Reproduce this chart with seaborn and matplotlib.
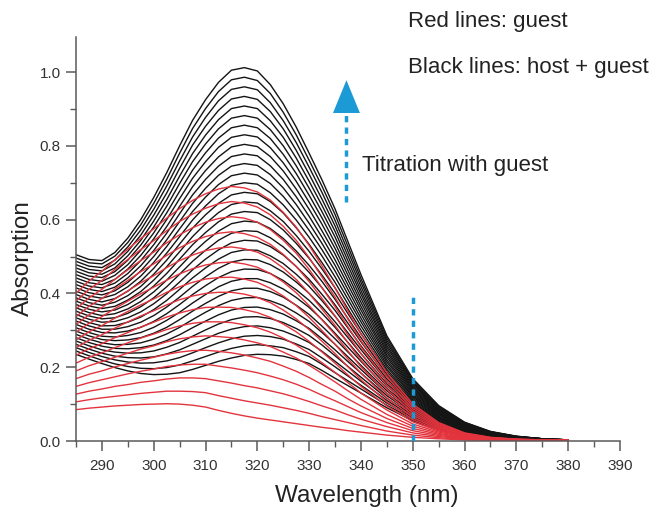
import matplotlib
matplotlib.use("Agg")
import matplotlib.pyplot as plt
import pandas as pd
import seaborn as sns
from matplotlib.ticker import MultipleLocator
from matplotlib.patches import Polygon

# ---------------- data ----------------
wavelength = [285, 287.5, 290, 292.5, 295, 297.5, 300, 302.5, 305, 307.5,
              310, 312.5, 315, 317.5, 320, 322.5, 325, 327.5, 330, 332.5,
              335, 337.5, 340, 345, 350, 355, 360, 365, 370, 375, 380]

# host + guest spectra: one list per wavelength, one value per spectrum (31 spectra)
black_abs = [
    [0.235, 0.244, 0.253, 0.262, 0.271, 0.280, 0.289, 0.298, 0.307, 0.316, 0.325, 0.334, 0.343, 0.352, 0.361, 0.370, 0.379, 0.388, 0.397, 0.406, 0.415, 0.424, 0.433, 0.442, 0.451, 0.460, 0.469, 0.478, 0.487, 0.496, 0.505],
    [0.222, 0.231, 0.240, 0.249, 0.258, 0.267, 0.276, 0.285, 0.294, 0.303, 0.312, 0.321, 0.330, 0.339, 0.348, 0.357, 0.366, 0.375, 0.384, 0.393, 0.402, 0.411, 0.420, 0.429, 0.438, 0.447, 0.456, 0.465, 0.474, 0.483, 0.492],
    [0.210, 0.219, 0.229, 0.238, 0.247, 0.257, 0.266, 0.275, 0.284, 0.294, 0.303, 0.312, 0.322, 0.331, 0.340, 0.350, 0.359, 0.368, 0.377, 0.387, 0.396, 0.405, 0.415, 0.424, 0.433, 0.443, 0.452, 0.461, 0.470, 0.480, 0.489],
    [0.199, 0.209, 0.220, 0.230, 0.241, 0.251, 0.261, 0.272, 0.282, 0.293, 0.303, 0.313, 0.324, 0.334, 0.345, 0.355, 0.365, 0.376, 0.386, 0.397, 0.407, 0.417, 0.428, 0.438, 0.449, 0.459, 0.469, 0.480, 0.490, 0.501, 0.511],
    [0.190, 0.202, 0.214, 0.226, 0.238, 0.250, 0.262, 0.274, 0.286, 0.298, 0.310, 0.322, 0.334, 0.346, 0.358, 0.370, 0.382, 0.394, 0.406, 0.418, 0.430, 0.442, 0.454, 0.466, 0.478, 0.490, 0.502, 0.514, 0.526, 0.538, 0.550],
    [0.183, 0.197, 0.211, 0.225, 0.239, 0.253, 0.266, 0.280, 0.294, 0.308, 0.322, 0.336, 0.350, 0.364, 0.378, 0.392, 0.405, 0.419, 0.433, 0.447, 0.461, 0.475, 0.489, 0.503, 0.517, 0.531, 0.544, 0.558, 0.572, 0.586, 0.600],
    [0.180, 0.196, 0.212, 0.228, 0.244, 0.260, 0.276, 0.292, 0.308, 0.324, 0.340, 0.356, 0.372, 0.388, 0.404, 0.420, 0.436, 0.452, 0.468, 0.484, 0.500, 0.516, 0.532, 0.548, 0.564, 0.580, 0.596, 0.612, 0.628, 0.644, 0.660],
    [0.181, 0.199, 0.217, 0.236, 0.254, 0.272, 0.290, 0.308, 0.327, 0.345, 0.363, 0.381, 0.399, 0.418, 0.436, 0.454, 0.472, 0.490, 0.509, 0.527, 0.545, 0.563, 0.581, 0.600, 0.618, 0.636, 0.654, 0.672, 0.691, 0.709, 0.727],
    [0.185, 0.206, 0.226, 0.247, 0.267, 0.288, 0.308, 0.329, 0.349, 0.370, 0.390, 0.411, 0.431, 0.452, 0.472, 0.493, 0.513, 0.534, 0.554, 0.575, 0.595, 0.616, 0.636, 0.657, 0.677, 0.698, 0.718, 0.739, 0.759, 0.780, 0.800],
    [0.194, 0.217, 0.239, 0.262, 0.284, 0.307, 0.329, 0.352, 0.374, 0.397, 0.419, 0.442, 0.464, 0.487, 0.509, 0.532, 0.554, 0.577, 0.599, 0.622, 0.644, 0.667, 0.689, 0.712, 0.734, 0.757, 0.779, 0.802, 0.824, 0.847, 0.869],
    [0.205, 0.229, 0.253, 0.277, 0.301, 0.325, 0.349, 0.373, 0.397, 0.421, 0.445, 0.469, 0.493, 0.517, 0.541, 0.565, 0.589, 0.613, 0.637, 0.661, 0.685, 0.709, 0.733, 0.757, 0.781, 0.805, 0.829, 0.853, 0.877, 0.901, 0.925],
    [0.216, 0.241, 0.266, 0.292, 0.317, 0.342, 0.367, 0.392, 0.418, 0.443, 0.468, 0.493, 0.518, 0.544, 0.569, 0.594, 0.619, 0.644, 0.670, 0.695, 0.720, 0.745, 0.770, 0.796, 0.821, 0.846, 0.871, 0.896, 0.922, 0.947, 0.972],
    [0.225, 0.251, 0.277, 0.303, 0.329, 0.355, 0.381, 0.407, 0.433, 0.459, 0.485, 0.511, 0.537, 0.563, 0.589, 0.615, 0.641, 0.667, 0.693, 0.719, 0.745, 0.771, 0.797, 0.823, 0.849, 0.875, 0.901, 0.927, 0.953, 0.979, 1.005],
    [0.232, 0.258, 0.284, 0.310, 0.336, 0.362, 0.388, 0.414, 0.440, 0.466, 0.492, 0.518, 0.544, 0.570, 0.596, 0.622, 0.648, 0.674, 0.700, 0.726, 0.752, 0.778, 0.804, 0.830, 0.856, 0.882, 0.908, 0.934, 0.960, 0.986, 1.012],
    [0.235, 0.261, 0.286, 0.312, 0.337, 0.363, 0.389, 0.414, 0.440, 0.465, 0.491, 0.517, 0.542, 0.568, 0.593, 0.619, 0.645, 0.670, 0.696, 0.721, 0.747, 0.773, 0.798, 0.824, 0.849, 0.875, 0.901, 0.926, 0.952, 0.977, 1.003],
    [0.234, 0.258, 0.283, 0.307, 0.332, 0.356, 0.380, 0.405, 0.429, 0.454, 0.478, 0.502, 0.527, 0.551, 0.576, 0.600, 0.624, 0.649, 0.673, 0.698, 0.722, 0.746, 0.771, 0.795, 0.820, 0.844, 0.868, 0.893, 0.917, 0.942, 0.966],
    [0.230, 0.253, 0.276, 0.298, 0.321, 0.344, 0.367, 0.390, 0.412, 0.435, 0.458, 0.481, 0.504, 0.526, 0.549, 0.572, 0.595, 0.618, 0.640, 0.663, 0.686, 0.709, 0.732, 0.754, 0.777, 0.800, 0.823, 0.846, 0.868, 0.891, 0.914],
    [0.221, 0.242, 0.263, 0.284, 0.305, 0.326, 0.347, 0.368, 0.389, 0.410, 0.431, 0.452, 0.473, 0.494, 0.515, 0.536, 0.557, 0.578, 0.599, 0.620, 0.641, 0.662, 0.683, 0.704, 0.725, 0.746, 0.767, 0.788, 0.809, 0.830, 0.851],
    [0.210, 0.229, 0.248, 0.267, 0.286, 0.305, 0.324, 0.343, 0.362, 0.381, 0.400, 0.419, 0.438, 0.457, 0.476, 0.495, 0.514, 0.533, 0.552, 0.571, 0.590, 0.609, 0.628, 0.647, 0.666, 0.685, 0.704, 0.723, 0.742, 0.761, 0.780],
    [0.191, 0.208, 0.225, 0.243, 0.260, 0.277, 0.294, 0.311, 0.329, 0.346, 0.363, 0.380, 0.397, 0.415, 0.432, 0.449, 0.466, 0.483, 0.501, 0.518, 0.535, 0.552, 0.569, 0.587, 0.604, 0.621, 0.638, 0.655, 0.673, 0.690, 0.707],
    [0.170, 0.185, 0.201, 0.216, 0.231, 0.247, 0.262, 0.277, 0.292, 0.308, 0.323, 0.338, 0.354, 0.369, 0.384, 0.400, 0.415, 0.430, 0.445, 0.461, 0.476, 0.491, 0.507, 0.522, 0.537, 0.553, 0.568, 0.583, 0.598, 0.614, 0.629],
    [0.150, 0.163, 0.176, 0.189, 0.202, 0.215, 0.228, 0.241, 0.254, 0.267, 0.280, 0.293, 0.306, 0.319, 0.332, 0.345, 0.358, 0.371, 0.384, 0.397, 0.410, 0.423, 0.436, 0.449, 0.462, 0.475, 0.488, 0.501, 0.514, 0.527, 0.540],
    [0.130, 0.141, 0.151, 0.162, 0.173, 0.184, 0.194, 0.205, 0.216, 0.226, 0.237, 0.248, 0.258, 0.269, 0.280, 0.291, 0.301, 0.312, 0.323, 0.333, 0.344, 0.355, 0.365, 0.376, 0.387, 0.398, 0.408, 0.419, 0.430, 0.440, 0.451],
    [0.090, 0.097, 0.103, 0.110, 0.116, 0.123, 0.129, 0.136, 0.142, 0.149, 0.155, 0.162, 0.168, 0.175, 0.181, 0.188, 0.194, 0.201, 0.207, 0.214, 0.220, 0.227, 0.233, 0.240, 0.246, 0.253, 0.259, 0.266, 0.272, 0.279, 0.285],
    [0.055, 0.059, 0.063, 0.066, 0.070, 0.074, 0.078, 0.082, 0.085, 0.089, 0.093, 0.097, 0.101, 0.104, 0.108, 0.112, 0.116, 0.120, 0.123, 0.127, 0.131, 0.135, 0.139, 0.142, 0.146, 0.150, 0.154, 0.158, 0.161, 0.165, 0.169],
    [0.030, 0.032, 0.034, 0.037, 0.039, 0.041, 0.043, 0.045, 0.048, 0.050, 0.052, 0.054, 0.056, 0.059, 0.061, 0.063, 0.065, 0.067, 0.070, 0.072, 0.074, 0.076, 0.078, 0.081, 0.083, 0.085, 0.087, 0.089, 0.092, 0.094, 0.096],
    [0.015, 0.016, 0.017, 0.019, 0.020, 0.021, 0.022, 0.023, 0.025, 0.026, 0.027, 0.028, 0.029, 0.031, 0.032, 0.033, 0.034, 0.035, 0.037, 0.038, 0.039, 0.040, 0.041, 0.043, 0.044, 0.045, 0.046, 0.047, 0.049, 0.050, 0.051],
    [0.008, 0.009, 0.009, 0.010, 0.010, 0.011, 0.012, 0.012, 0.013, 0.013, 0.014, 0.015, 0.015, 0.016, 0.016, 0.017, 0.018, 0.018, 0.019, 0.019, 0.020, 0.021, 0.021, 0.022, 0.022, 0.023, 0.024, 0.024, 0.025, 0.025, 0.026],
    [0.004, 0.004, 0.005, 0.005, 0.005, 0.006, 0.006, 0.006, 0.006, 0.007, 0.007, 0.007, 0.008, 0.008, 0.008, 0.009, 0.009, 0.009, 0.009, 0.010, 0.010, 0.010, 0.011, 0.011, 0.011, 0.012, 0.012, 0.012, 0.012, 0.013, 0.013],
    [0.002, 0.002, 0.002, 0.002, 0.003, 0.003, 0.003, 0.003, 0.003, 0.003, 0.004, 0.004, 0.004, 0.004, 0.004, 0.004, 0.004, 0.005, 0.005, 0.005, 0.005, 0.005, 0.005, 0.005, 0.006, 0.006, 0.006, 0.006, 0.006, 0.006, 0.006],
    [0.001, 0.001, 0.001, 0.001, 0.001, 0.001, 0.001, 0.002, 0.002, 0.002, 0.002, 0.002, 0.002, 0.002, 0.002, 0.002, 0.002, 0.002, 0.002, 0.002, 0.002, 0.002, 0.003, 0.003, 0.003, 0.003, 0.003, 0.003, 0.003, 0.003, 0.003],
]

# guest-only spectra: one list per wavelength, one value per spectrum (16 spectra)
red_abs = [
    [0.085, 0.106, 0.127, 0.148, 0.169, 0.190, 0.211, 0.232, 0.253, 0.274, 0.295, 0.316, 0.337, 0.358, 0.379, 0.400],
    [0.089, 0.112, 0.135, 0.158, 0.181, 0.204, 0.227, 0.250, 0.273, 0.296, 0.319, 0.342, 0.365, 0.388, 0.411, 0.434],
    [0.092, 0.117, 0.141, 0.166, 0.190, 0.215, 0.239, 0.264, 0.288, 0.313, 0.337, 0.362, 0.386, 0.411, 0.435, 0.460],
    [0.095, 0.121, 0.148, 0.174, 0.201, 0.227, 0.253, 0.280, 0.306, 0.333, 0.359, 0.385, 0.412, 0.438, 0.465, 0.491],
    [0.097, 0.125, 0.153, 0.182, 0.210, 0.238, 0.266, 0.294, 0.323, 0.351, 0.379, 0.407, 0.435, 0.464, 0.492, 0.520],
    [0.099, 0.129, 0.159, 0.189, 0.219, 0.249, 0.279, 0.309, 0.339, 0.369, 0.399, 0.429, 0.459, 0.489, 0.519, 0.549],
    [0.100, 0.132, 0.163, 0.195, 0.227, 0.258, 0.290, 0.322, 0.353, 0.385, 0.417, 0.448, 0.480, 0.512, 0.543, 0.575],
    [0.101, 0.135, 0.168, 0.202, 0.235, 0.269, 0.302, 0.336, 0.369, 0.403, 0.436, 0.470, 0.503, 0.537, 0.570, 0.604],
    [0.100, 0.135, 0.171, 0.206, 0.241, 0.277, 0.312, 0.347, 0.383, 0.418, 0.453, 0.489, 0.524, 0.559, 0.595, 0.630],
    [0.097, 0.134, 0.171, 0.208, 0.245, 0.282, 0.319, 0.356, 0.393, 0.430, 0.467, 0.504, 0.541, 0.578, 0.615, 0.652],
    [0.092, 0.131, 0.169, 0.208, 0.246, 0.285, 0.323, 0.362, 0.400, 0.439, 0.477, 0.516, 0.554, 0.593, 0.631, 0.670],
    [0.083, 0.123, 0.163, 0.203, 0.243, 0.283, 0.323, 0.363, 0.403, 0.443, 0.483, 0.523, 0.563, 0.603, 0.643, 0.683],
    [0.075, 0.116, 0.157, 0.198, 0.239, 0.280, 0.321, 0.362, 0.403, 0.444, 0.485, 0.526, 0.567, 0.608, 0.649, 0.690],
    [0.068, 0.109, 0.150, 0.192, 0.233, 0.274, 0.315, 0.356, 0.398, 0.439, 0.480, 0.521, 0.562, 0.604, 0.645, 0.686],
    [0.062, 0.103, 0.144, 0.185, 0.225, 0.266, 0.307, 0.348, 0.389, 0.430, 0.471, 0.512, 0.552, 0.593, 0.634, 0.675],
    [0.057, 0.097, 0.136, 0.176, 0.216, 0.256, 0.295, 0.335, 0.375, 0.414, 0.454, 0.494, 0.533, 0.573, 0.613, 0.653],
    [0.052, 0.090, 0.128, 0.166, 0.203, 0.241, 0.279, 0.317, 0.355, 0.393, 0.431, 0.469, 0.506, 0.544, 0.582, 0.620],
    [0.047, 0.083, 0.118, 0.154, 0.189, 0.225, 0.260, 0.296, 0.331, 0.367, 0.402, 0.438, 0.473, 0.509, 0.544, 0.580],
    [0.042, 0.075, 0.107, 0.140, 0.172, 0.205, 0.237, 0.270, 0.302, 0.335, 0.367, 0.400, 0.432, 0.465, 0.497, 0.530],
    [0.037, 0.066, 0.095, 0.124, 0.153, 0.183, 0.212, 0.241, 0.270, 0.299, 0.328, 0.357, 0.386, 0.415, 0.444, 0.474],
    [0.033, 0.058, 0.084, 0.109, 0.135, 0.160, 0.186, 0.211, 0.237, 0.262, 0.288, 0.313, 0.339, 0.364, 0.390, 0.415],
    [0.028, 0.050, 0.071, 0.093, 0.114, 0.136, 0.158, 0.179, 0.201, 0.222, 0.244, 0.266, 0.287, 0.309, 0.330, 0.352],
    [0.024, 0.042, 0.059, 0.077, 0.095, 0.113, 0.130, 0.148, 0.166, 0.184, 0.201, 0.219, 0.237, 0.255, 0.272, 0.290],
    [0.016, 0.027, 0.039, 0.050, 0.061, 0.072, 0.084, 0.095, 0.106, 0.117, 0.129, 0.140, 0.151, 0.162, 0.174, 0.185],
    [0.010, 0.016, 0.022, 0.028, 0.034, 0.040, 0.046, 0.052, 0.058, 0.064, 0.070, 0.076, 0.082, 0.088, 0.094, 0.100],
    [0.006, 0.009, 0.012, 0.015, 0.018, 0.021, 0.024, 0.027, 0.029, 0.032, 0.035, 0.038, 0.041, 0.044, 0.047, 0.050],
    [0.003, 0.004, 0.006, 0.007, 0.008, 0.009, 0.011, 0.012, 0.013, 0.014, 0.016, 0.017, 0.018, 0.020, 0.021, 0.022],
    [0.002, 0.003, 0.003, 0.004, 0.004, 0.005, 0.005, 0.006, 0.006, 0.007, 0.007, 0.008, 0.008, 0.009, 0.009, 0.010],
    [0.001, 0.001, 0.002, 0.002, 0.002, 0.002, 0.003, 0.003, 0.003, 0.003, 0.004, 0.004, 0.004, 0.004, 0.005, 0.005],
    [0.001, 0.001, 0.001, 0.001, 0.002, 0.002, 0.002, 0.002, 0.002, 0.002, 0.002, 0.002, 0.003, 0.003, 0.003, 0.003],
    [0.001, 0.001, 0.001, 0.001, 0.001, 0.001, 0.001, 0.001, 0.001, 0.002, 0.002, 0.002, 0.002, 0.002, 0.002, 0.002],
]

x_ticks = [290, 300, 310, 320, 330, 340, 350, 360, 370, 380, 390]
y_ticks = [0.0, 0.2, 0.4, 0.6, 0.8, 1.0]
label_red = "Red lines: guest"
label_black = "Black lines: host + guest"
label_titration = "Titration with guest"


def long_form(table, tag):
    rows = []
    for w, values in zip(wavelength, table):
        for i, v in enumerate(values):
            rows.append((w, v, f"{tag}{i:02d}"))
    return pd.DataFrame(rows, columns=["wavelength", "absorption", "spectrum"])


df_black = long_form(black_abs, "b")
df_red = long_form(red_abs, "r")

# ---------------- styling ----------------
sns.set_style("ticks")
plt.rcParams["font.family"] = ["Liberation Sans", "DejaVu Sans"]

W, H = 655, 511
fig = plt.figure(figsize=(W / 100, H / 100), dpi=100)
ax = fig.add_axes([76 / W, 70 / H, 544 / W, 404 / H])

sns.lineplot(data=df_black, x="wavelength", y="absorption", units="spectrum",
             estimator=None, color="#141414", lw=1.0, ax=ax, legend=False)
sns.lineplot(data=df_red, x="wavelength", y="absorption", units="spectrum",
             estimator=None, color="#e3343e", lw=1.0, ax=ax, legend=False)

ax.set_xlim(285, 390)
ax.set_ylim(0, 1.095)
ax.set_xticks(x_ticks)
ax.set_yticks(y_ticks)
ax.set_yticklabels([f"{v:.1f}" for v in y_ticks])
ax.xaxis.set_minor_locator(MultipleLocator(5))
ax.yaxis.set_minor_locator(MultipleLocator(0.1))

spine_c = "#5a5a5a"
for s in ["top", "right"]:
    ax.spines[s].set_visible(False)
for s in ["left", "bottom"]:
    ax.spines[s].set_color(spine_c)
    ax.spines[s].set_linewidth(1.1)
ax.tick_params(which="major", direction="out", length=7, width=1.1,
               color=spine_c, labelsize=11, labelcolor="#333333")
ax.tick_params(axis="x", which="major", pad=6)
ax.tick_params(axis="y", which="major", pad=4)
ax.tick_params(which="minor", direction="out", length=4, width=1.0, color=spine_c)

ax.set_xlabel("Wavelength (nm)", fontsize=17.5, color="#222222")
ax.set_ylabel("Absorption", fontsize=17.5, color="#222222")
ax.xaxis.set_label_coords(0.535, -0.108)
ax.yaxis.set_label_coords(-0.078, 0.452)

# ---------------- annotations ----------------
blue = "#1c9ad6"
ax.plot([337.2, 337.2], [0.648, 0.885], color=blue, lw=2.5, ls=(0, (1.8, 1.5)),
        solid_capstyle="butt")
ax.add_patch(Polygon([(334.6, 0.889), (339.8, 0.889), (337.2, 0.978)],
                     closed=True, color=blue, lw=0))
ax.plot([350, 350], [0.0, 0.396], color=blue, lw=2.5, ls=(0, (1.8, 1.5)),
        solid_capstyle="butt", zorder=5)

fig.text(408 / W, 1 - 27 / H, label_red, fontsize=16, color="#222222", va="baseline")
fig.text(408 / W, 1 - 73 / H, label_black, fontsize=16, color="#222222", va="baseline")
fig.text(362 / W, 1 - 171 / H, label_titration, fontsize=16, color="#222222", va="baseline")

fig.savefig("out.png", dpi=100)
